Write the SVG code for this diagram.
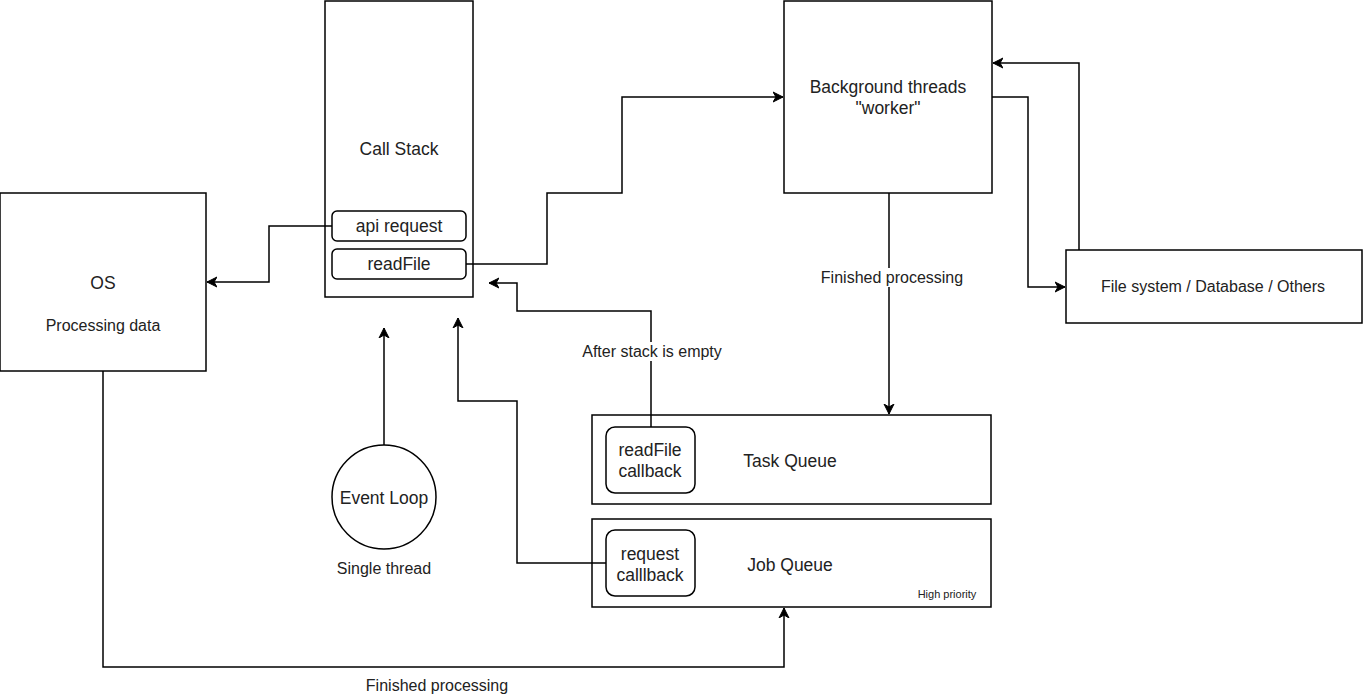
<svg xmlns="http://www.w3.org/2000/svg" width="1363" height="695" viewBox="0 0 1363 695">
<style>
.box{fill:#fff;stroke:#000;stroke-width:1.5}
.rbox{fill:#fff;stroke:#000;stroke-width:1.5}
.edge{fill:none;stroke:#000;stroke-width:1.5}
.t{font-family:"Liberation Sans",Arial,sans-serif;font-size:17.5px;fill:#222;text-anchor:middle}
.l{font-family:"Liberation Sans",Arial,sans-serif;font-size:16px;fill:#222;text-anchor:middle}
.s{font-family:"Liberation Sans",Arial,sans-serif;font-size:11px;fill:#222;text-anchor:middle}
.lbg{fill:#fff;stroke:none}
</style>
<defs>
<marker id="arr" markerUnits="userSpaceOnUse" markerWidth="12" markerHeight="12" refX="10" refY="5" orient="auto" viewBox="0 0 12 10">
<path d="M0,0 L10,5 L0,10 L3,5 z" fill="#000" stroke="#000" stroke-width="1"/>
</marker>
</defs>
<rect width="1363" height="695" fill="#fff"/>

<g id="callstack">
<rect class="box" x="325" y="1" width="148" height="296"/>
<text class="t" x="399" y="155">Call Stack</text>
</g>
<g id="apirequest">
<rect class="rbox" x="332" y="211" width="134" height="30" rx="5"/>
<text class="t" x="399" y="232">api request</text>
</g>
<g id="readfile">
<rect class="rbox" x="332" y="249" width="134" height="30" rx="5"/>
<text class="t" x="399" y="270">readFile</text>
</g>
<g id="os">
<rect class="box" x="0" y="193" width="206" height="178"/>
<text class="t" x="103" y="289">OS</text>
<text class="l" x="103" y="331">Processing data</text>
</g>
<g id="background">
<rect class="box" x="784" y="1" width="208" height="192"/>
<text class="t" x="888" y="93">Background threads</text>
<text class="t" x="888" y="114">"worker"</text>
</g>
<g id="filesystem">
<rect class="box" x="1066" y="250" width="296" height="73"/>
<text class="l" x="1213" y="292">File system / Database / Others</text>
</g>
<g id="taskqueue">
<rect class="box" x="592" y="415" width="399" height="89"/>
<text class="t" x="790" y="467">Task Queue</text>
</g>
<g id="readfilecallback">
<rect class="rbox" x="606" y="427" width="89" height="66" rx="9"/>
<text class="t" x="650" y="456">readFile</text>
<text class="t" x="650" y="477">callback</text>
</g>
<g id="jobqueue">
<rect class="box" x="592" y="519" width="399" height="88"/>
<text class="t" x="790" y="571">Job Queue</text>
<text class="s" x="947" y="598">High priority</text>
</g>
<g id="requestcallback">
<rect class="rbox" x="606" y="530" width="89" height="66" rx="9"/>
<text class="t" x="650" y="560">request</text>
<text class="t" x="650" y="581">calllback</text>
</g>
<g id="eventloop">
<circle class="box" cx="384" cy="497" r="52"/>
<text class="t" x="384" y="504">Event Loop</text>
<text class="l" x="384" y="574">Single thread</text>
</g>

<g id="connectors">
<path class="edge" d="M332,226 H269 V282 H207" marker-end="url(#arr)"/>
<path class="edge" d="M466,264 H547 V193 H622 V97 H783" marker-end="url(#arr)"/>
<path class="edge" d="M992,97 H1028 V287 H1065" marker-end="url(#arr)"/>
<path class="edge" d="M1079,250 V63 H993" marker-end="url(#arr)"/>
<path class="edge" d="M889,193 V414" marker-end="url(#arr)"/>
<path class="edge" d="M651,427 V311 H517 V283 H489" marker-end="url(#arr)"/>
<path class="edge" d="M606,563 H517 V401 H458 V318" marker-end="url(#arr)"/>
<path class="edge" d="M384,445 V328" marker-end="url(#arr)"/>
<path class="edge" d="M103,371 V667 H784 V608" marker-end="url(#arr)"/>
<rect class="lbg" x="818" y="268" width="150" height="19"/>
<text class="l" x="892" y="283">Finished processing</text>
<rect class="lbg" x="579" y="342" width="146" height="19"/>
<text class="l" x="652" y="357">After stack is empty</text>
<text class="l" x="437" y="691">Finished processing</text>
</g>
</svg>
